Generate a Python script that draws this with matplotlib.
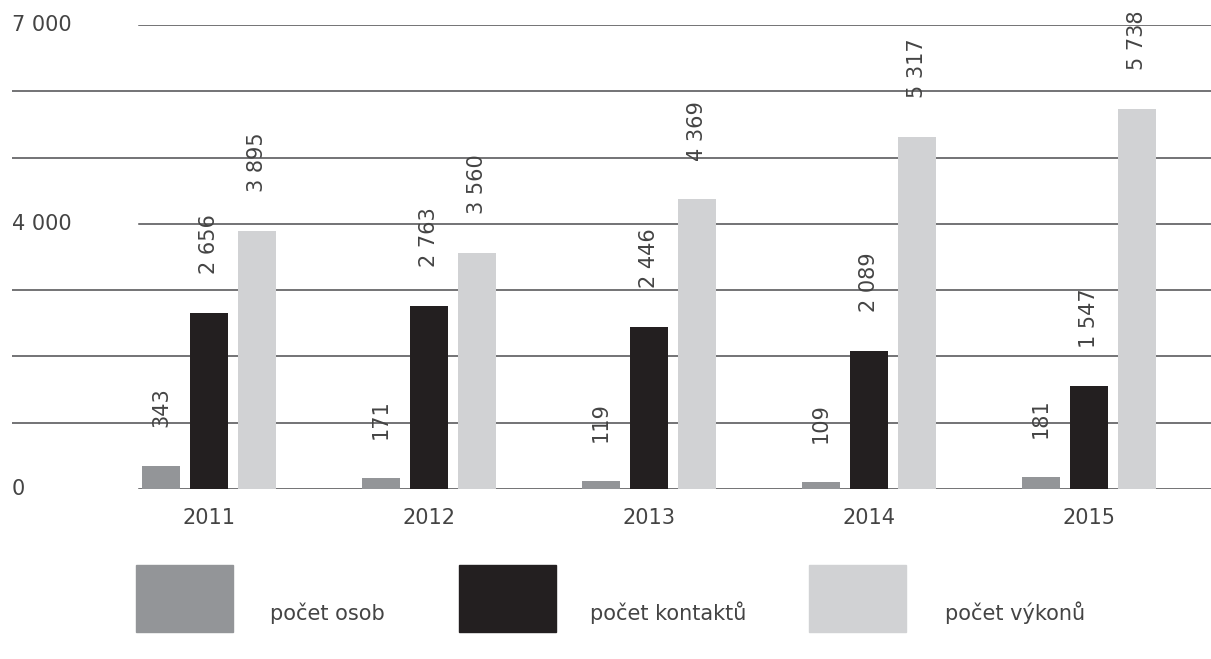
import matplotlib.pyplot as plt
from matplotlib.patches import Rectangle

plt.rcParams['font.family'] = ['DejaVu Sans']

# data
years = ['2011', '2012', '2013', '2014', '2015']
osob = [343, 171, 119, 109, 181]
kontaktu = [2656, 2763, 2446, 2089, 1547]
vykonu = [3895, 3560, 4369, 5317, 5738]
series_names = ['počet osob', 'počet kontaktů', 'počet výkonů']
colors = ['#939598', '#231f20', '#d1d2d4']
yticks_labeled = [0, 4000, 7000]
grid_levels = [0, 1000, 2000, 3000, 4000, 5000, 6000, 7000]

W, H = 1211, 659
fig = plt.figure(figsize=(W / 100, H / 100), dpi=100)

# axes in pixel terms: left 12, right 1211, y=0 at 489 px, y=7000 at 25 px
ax = fig.add_axes([12 / W, (H - 489) / H, 1199 / W, (489 - 25) / H])
ax.set_ylim(0, 7000)
unit = 220.0  # px per group
ax.set_xlim(-197 / unit, (1211 - 209) / unit)
ax.axis('off')

line_color = '#4d4d4f'
for g in grid_levels:
    xmin = (139 - 12) / 1199 if g in yticks_labeled else 0
    ax.axhline(g, xmin=xmin, xmax=1, color=line_color, lw=1.1, zorder=1)

text_color = '#444444'
fs = 15
for t in yticks_labeled:
    ax.text(0, t, f"{t:,}".replace(",", " "), transform=ax.get_yaxis_transform(),
            ha='left', va='center', fontsize=fs, color=text_color)

bw = 38 / unit
off = 48 / unit
x = list(range(len(years)))
for i, (vals, c) in enumerate(zip([osob, kontaktu, vykonu], colors)):
    pos = [xi + (i - 1) * off for xi in x]
    ax.bar(pos, vals, width=bw, color=c, zorder=2)
    for p, v in zip(pos, vals):
        ax.annotate(f"{v:,}".replace(",", " "), (p, v), xytext=(0, 28),
                    textcoords='offset points', rotation=90, ha='center',
                    va='bottom', fontsize=fs, color=text_color, zorder=3)

for xi, yr in zip(x, years):
    ax.annotate(yr, (xi, 0), xytext=(0, -21), textcoords='offset points',
                ha='center', va='center', fontsize=fs, color=text_color)

# legend boxes
leg_x = [136, 459, 809]
text_x = [270, 590, 945]
for lx, tx, name, c in zip(leg_x, text_x, series_names, colors):
    fig.add_artist(Rectangle((lx / W, (H - 632) / H), 97 / W, 67 / H,
                             transform=fig.transFigure, color=c))
    fig.text(tx / W, (H - 613) / H, name, ha='left', va='center',
             fontsize=fs, color=text_color)

fig.savefig('out.png', dpi=100)
